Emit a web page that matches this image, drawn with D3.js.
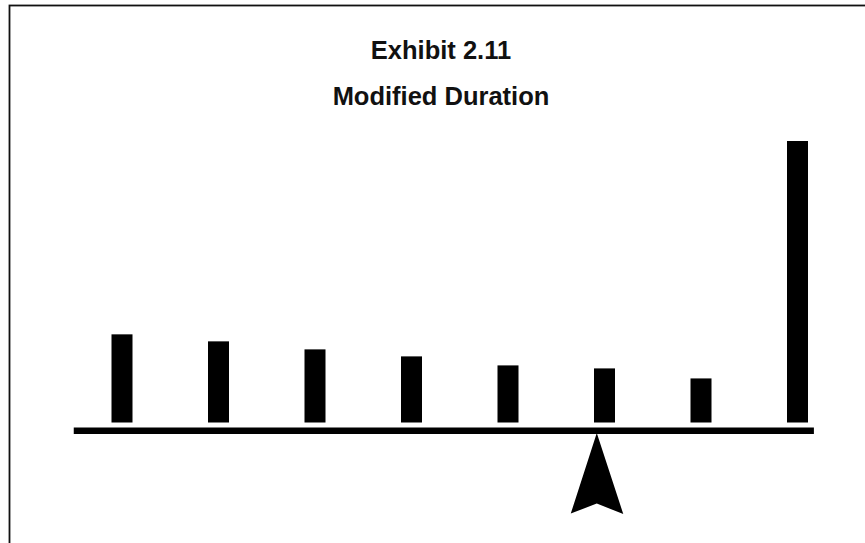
<!DOCTYPE html>
<html>
<head>
<meta charset="utf-8">
<script src="https://cdn.jsdelivr.net/npm/d3@7/dist/d3.min.js"></script>
<style>
  html, body { margin: 0; padding: 0; background: #fff; }
  svg { display: block; }
</style>
</head>
<body>
<svg id="chart" width="865" height="543"></svg>
<script>
// Present value of each period's cash flow (last period includes principal)
const periods = [1, 2, 3, 4, 5, 6, 7, 8];
const cashFlowPV = [88, 81, 73, 66, 57, 54, 44, 281];
// Balance point of the cash flows, in periods
const durationPoint = [5.92];
const titleLines = ["Exhibit 2.11", "Modified Duration"];

const W = 865, H = 543;
const svg = d3.select("#chart");

// Frame
svg.append("rect")
  .attr("x", 9.5).attr("y", 5.5)
  .attr("width", W + 10).attr("height", H + 10)
  .attr("fill", "#fff")
  .attr("stroke", "#111")
  .attr("stroke-width", 1.8);

// Title
svg.selectAll("text.title")
  .data(titleLines)
  .join("text")
  .attr("class", "title")
  .attr("x", 441)
  .attr("y", (d, i) => 59 + i * 46)
  .attr("text-anchor", "middle")
  .attr("font-family", "'Liberation Sans', Arial, Helvetica, sans-serif")
  .attr("font-weight", "bold")
  .attr("font-size", 25.5)
  .attr("fill", "#111")
  .text(d => d);

// Scales: period -> horizontal position, value -> height above the beam
const x = d3.scaleLinear().domain([1, 8]).range([122, 797.5]);
const barBase = 422.5;
const y = d3.scaleLinear().domain([0, 281]).range([barBase, 141]);
const barW = 21;

// Cash flow bars
svg.selectAll("rect.bar")
  .data(periods.map((p, i) => ({ p, v: cashFlowPV[i] })))
  .join("rect")
  .attr("class", "bar")
  .attr("x", d => x(d.p) - barW / 2)
  .attr("y", d => y(d.v))
  .attr("width", barW)
  .attr("height", d => y(0) - y(d.v))
  .attr("fill", "#000");

// Beam
const beamY = 430.8;
const beamH = 6.5;
svg.append("line")
  .attr("x1", x(0.5))
  .attr("x2", x(8.17))
  .attr("y1", beamY).attr("y2", beamY)
  .attr("stroke", "#000")
  .attr("stroke-width", beamH);

// Fulcrum arrowhead at the duration point
svg.selectAll("path.fulcrum")
  .data(durationPoint)
  .join("path")
  .attr("class", "fulcrum")
  .attr("d", d => {
    const cx = x(d), top = beamY + beamH / 2 - 1;
    const p = d3.path();
    p.moveTo(cx, top);
    p.lineTo(cx + 26.5, top + 81);
    p.lineTo(cx, top + 70.5);
    p.lineTo(cx - 26, top + 80.5);
    p.closePath();
    return p.toString();
  })
  .attr("fill", "#000");
</script>
</body>
</html>
